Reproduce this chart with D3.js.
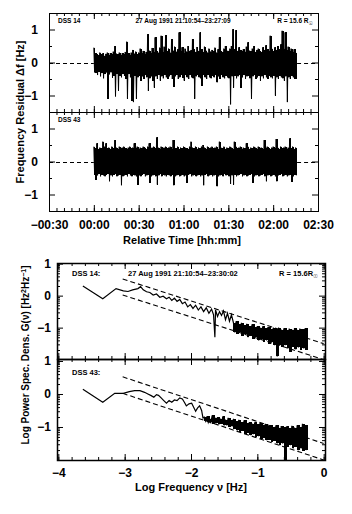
<!DOCTYPE html>
<html>
<head>
<meta charset="utf-8">
<script src="https://cdn.jsdelivr.net/npm/d3@7"></script>
<style>
  body { margin: 0; background: #fff; }
  text { font-family: "Liberation Sans", "DejaVu Sans", sans-serif; font-weight: bold; fill: #000; }
</style>
</head>
<body>
<div id="chart"></div>
<script>
// ---- data: residuals, one hi/lo pair per minute after start (00:00 = 21:10:54)
const minutes = d3.range(0, 136);

const dss14Hi = [
  0.45,0.28,0.25,0.22,0.30,0.25,0.28,0.20,0.26,0.30,
  0.22,0.28,0.25,0.33,0.50,0.27,0.25,0.30,0.22,0.28,
  0.25,0.32,0.63,0.28,0.24,0.30,0.38,0.27,0.33,0.25,
  0.30,0.42,0.28,0.35,0.27,0.32,0.86,0.36,0.30,0.44,
  0.32,0.76,0.35,0.30,0.45,0.81,0.33,0.48,0.83,0.35,
  0.42,0.30,0.71,0.36,0.48,0.33,0.40,0.91,0.35,0.46,
  0.30,0.42,0.33,0.50,0.35,0.38,0.71,0.40,0.32,0.47,
  0.35,0.91,0.40,0.32,0.48,0.36,0.30,0.42,0.33,0.38,
  0.35,0.45,0.30,0.40,0.76,0.35,0.32,0.42,0.50,0.36,
  0.35,0.42,0.50,1.01,0.40,0.98,0.35,0.46,0.38,0.35,
  0.40,0.33,0.48,0.61,0.36,0.35,0.42,0.50,0.32,0.38,
  0.42,0.35,0.32,0.46,0.38,0.52,0.40,0.35,0.81,0.42,
  0.35,0.46,0.38,0.50,0.40,0.55,0.96,0.42,0.91,0.38,
  0.48,0.35,0.42,0.33,0.40,0.30
];
const dss14Lo = [
  -0.30,-0.32,-0.38,-0.28,-0.42,-0.32,-0.48,-0.35,-0.30,-1.10,
  -0.36,-0.30,-0.46,-0.40,-1.03,-0.35,-0.86,-0.40,-0.45,-0.35,
  -0.40,-0.50,-1.10,-0.35,-0.45,-1.16,-1.20,-0.40,-1.10,-0.45,
  -0.40,-0.55,-0.42,-0.50,-0.38,-0.45,-0.86,-0.48,-0.42,-0.55,
  -0.76,-0.42,-0.50,-0.38,-0.55,-0.42,-0.48,-0.38,-0.45,-0.50,
  -0.42,-0.38,-0.50,-0.73,-0.42,-0.38,-0.50,-0.45,-0.38,-0.46,
  -0.55,-0.38,-0.45,-0.50,-0.38,-0.45,-0.48,-1.10,-0.42,-0.38,
  -0.45,-0.48,-0.70,-0.38,-0.45,-0.50,-0.38,-0.45,-0.48,-0.40,
  -0.45,-0.38,-0.60,-0.42,-0.50,-0.38,-0.45,-0.48,-0.40,-0.45,
  -0.48,-1.27,-0.42,-0.76,-0.40,-0.48,-0.42,-0.38,-0.76,-0.45,
  -0.38,-0.50,-0.42,-0.40,-0.48,-1.10,-0.42,-0.38,-0.50,-0.45,
  -0.40,-0.55,-0.42,-0.48,-0.38,-0.45,-0.50,-0.40,-0.45,-0.48,
  -0.40,-1.00,-0.45,-0.50,-0.40,-0.45,-0.48,-0.55,-0.42,-1.20,
  -0.45,-0.50,-0.40,-0.45,-0.50,-0.50
];
const dss43Hi = [
  0.45,0.40,0.55,0.38,0.42,0.40,0.60,0.45,0.55,0.40,
  0.42,0.38,0.45,0.40,0.65,0.42,0.38,0.45,0.40,0.42,
  0.45,0.40,0.38,0.42,0.45,0.40,0.42,0.55,0.40,0.45,
  0.38,0.42,0.40,0.45,0.42,0.38,0.45,0.55,0.40,0.42,
  0.45,0.40,0.73,0.42,0.38,0.45,0.40,0.42,0.45,0.40,
  0.42,0.45,0.38,0.65,0.42,0.40,0.45,0.38,0.42,0.40,
  0.45,0.42,0.40,0.38,0.45,0.60,0.42,0.40,0.45,0.38,
  0.42,0.40,0.45,0.50,0.42,0.38,0.45,0.40,0.42,0.45,
  0.40,0.42,0.45,0.38,0.60,0.42,0.40,0.45,0.38,0.42,
  0.40,0.45,0.42,0.38,0.60,0.45,0.40,0.42,0.45,0.38,
  0.42,0.40,0.55,0.45,0.38,0.42,0.40,0.45,0.42,0.38,
  0.45,0.40,0.42,0.38,0.65,0.42,0.45,0.40,0.38,0.42,
  0.45,0.40,0.68,0.42,0.38,0.45,0.40,0.42,0.45,0.38,
  0.42,0.70,0.40,0.45,0.38,0.42
];
const dss43Lo = [
  -0.40,-0.55,-0.42,-0.38,-0.45,-0.40,-0.42,-0.45,-0.40,-0.38,
  -0.60,-0.42,-0.45,-0.40,-0.38,-0.45,-0.42,-0.40,-0.72,-0.45,
  -0.42,-0.40,-0.45,-0.38,-0.42,-0.45,-0.40,-0.42,-0.45,-0.70,
  -0.42,-0.45,-0.40,-0.38,-0.45,-0.42,-0.40,-0.65,-0.45,-0.42,
  -0.40,-0.45,-0.70,-0.42,-0.38,-0.45,-0.40,-0.42,-0.45,-0.40,
  -0.42,-0.45,-0.40,-0.72,-0.45,-0.42,-0.40,-0.45,-0.42,-0.40,
  -0.45,-0.42,-0.65,-0.40,-0.38,-0.45,-0.42,-0.40,-0.45,-0.42,
  -0.40,-0.45,-0.42,-0.72,-0.40,-0.38,-0.45,-0.42,-0.40,-0.45,
  -0.42,-0.40,-0.75,-0.45,-0.42,-0.40,-0.45,-0.38,-0.42,-0.40,
  -0.45,-0.68,-0.42,-0.70,-0.40,-0.45,-0.42,-0.40,-0.38,-0.45,
  -0.42,-0.40,-0.45,-0.42,-0.40,-0.38,-0.65,-0.45,-0.42,-0.40,
  -0.45,-0.42,-0.40,-0.38,-0.45,-0.60,-0.42,-0.40,-0.45,-0.42,
  -0.40,-0.45,-0.60,-0.42,-0.40,-0.38,-0.45,-0.42,-0.40,-0.45,
  -0.42,-0.40,-0.62,-0.45,-0.40,-0.42
];

const timeTicks = [-30, 0, 30, 60, 90, 120, 150];
const timeTickLabels = ['\u221200:30', '00:00', '00:30', '01:00', '01:30', '02:00', '02:30'];

// ---- data: power spectra (log10 frequency, log10 G)
const spec14F = [-3.63,-3.33,-3.13,-3.02,-2.95,-2.88,-2.80,-2.76,-2.72,-2.67,-2.62,-2.57,-2.52,-2.47,-2.42,-2.37,
  -2.33,-2.29,-2.25,-2.21,-2.17,-2.13,-2.09,-2.05,-2.01,-1.97,-1.93,-1.89,-1.85,-1.81,-1.77,-1.73,-1.69,-1.66,
  -1.64,-1.63,-1.60,-1.57,-1.54,-1.51,-1.48,-1.45,-1.42,-1.39];
const spec14G = [0.30,-0.10,0.22,0.15,0.13,0.18,0.22,0.28,0.18,0.12,0.10,0.02,0.05,-0.05,-0.02,-0.10,
  -0.05,-0.15,-0.08,-0.18,-0.12,-0.25,-0.20,-0.35,-0.28,-0.40,-0.30,-0.45,-0.35,-0.50,-0.38,-0.55,-0.42,-0.60,
  -1.30,-0.45,-0.65,-0.50,-0.62,-0.48,-0.75,-0.55,-0.80,-0.60];
// noisy high-frequency part: hi/lo pairs on a 0.04 dex grid
const spec14NoiseF = d3.range(-1.36, -0.27, 0.04);
const spec14NoiseHi = [-0.85,-0.80,-0.90,-0.85,-0.92,-0.88,-0.95,-0.90,-0.98,-0.95,-1.00,-0.96,-1.02,-0.98,
  -1.05,-1.00,-1.04,-1.00,-1.06,-1.02,-1.08,-1.03,-1.06,-1.02,-1.07,-1.03,-1.05,-1.02];
const spec14NoiseLo = [-1.15,-1.20,-1.15,-1.25,-1.20,-1.30,-1.25,-1.35,-1.30,-1.40,-1.35,-1.45,-1.40,-1.50,
  -1.45,-1.55,-1.90,-1.55,-1.60,-1.55,-1.65,-1.75,-1.60,-1.68,-1.62,-1.70,-1.65,-1.70];

const spec43F = [-3.63,-3.33,-3.15,-3.02,-2.93,-2.85,-2.77,-2.70,-2.65,-2.60,-2.56,-2.52,-2.49,-2.45,-2.41,-2.37,
  -2.33,-2.29,-2.25,-2.21,-2.17,-2.13,-2.10,-2.07,-2.03,-1.99,-1.96,-1.93,-1.90,-1.87,-1.84,-1.82];
const spec43G = [0.14,-0.25,0.02,0.02,0.07,0.10,0.10,0.05,0.00,-0.05,-0.10,-0.02,-0.04,-0.12,-0.20,-0.28,
  -0.20,-0.25,-0.18,-0.20,-0.12,-0.15,-0.25,-0.36,-0.30,-0.28,-0.40,-0.52,-0.42,-0.36,-0.50,-0.72];
const spec43NoiseF = d3.range(-1.80, -0.27, 0.04);
const spec43NoiseHi = [-0.70,-0.68,-0.75,-0.65,-0.72,-0.70,-0.75,-0.68,-0.78,-0.72,-0.80,-0.75,-0.82,-0.78,
  -0.85,-0.80,-0.88,-0.85,-0.90,-0.86,-0.92,-0.88,-0.95,-0.90,-0.98,-0.94,-1.00,-0.95,-1.02,-0.97,
  -1.00,-0.98,-1.03,-0.96,-1.02,-0.95,-1.00,-0.90,-0.95];
const spec43NoiseLo = [-0.82,-0.86,-0.85,-0.90,-0.88,-0.92,-0.90,-0.95,-0.95,-1.00,-0.98,-1.05,-1.10,-1.15,
  -1.12,-1.20,-1.18,-1.25,-1.22,-1.30,-1.28,-1.35,-1.32,-1.40,-1.38,-1.45,-1.42,-1.50,-1.55,-1.50,
  -2.00,-1.60,-1.55,-1.65,-1.60,-1.70,-1.65,-1.72,-1.70];

// power-law envelope lines, slope -2/3
const fitSlope = -2 / 3;
const fitOffsets = [-1.5, -2.0];
const fitFrom = -3.03;

const svg = d3.select('#chart').append('svg')
  .attr('width', 352)
  .attr('height', 514);

// generic boxed frame with inward ticks on all four sides
function frame(x, y, o) {
  const [x0, x1] = x.range();
  const [yb, yt] = y.range();
  const g = svg.append('g');
  const sides = [
    [d3.axisBottom, x, `translate(0,${yb})`, o.xMajor, o.xMinor, o.xFormat],
    [d3.axisTop, x, `translate(0,${yt})`, o.xMajor, o.xMinor, null],
    [d3.axisLeft, y, `translate(${x0},0)`, o.yMajor, o.yMinor, o.yFormat],
    [d3.axisRight, y, `translate(${x1},0)`, o.yMajor, o.yMinor, null]
  ];
  sides.forEach(([ax, sc, tr, major, minor, fmt], i) => {
    const pad = i < 2 ? o.xPad : o.yPad;
    g.append('g').attr('transform', tr)
      .call(ax(sc).tickValues(minor).tickSizeInner(-o.minorLen).tickSizeOuter(0).tickFormat(() => ''));
    const a = g.append('g').attr('transform', tr)
      .call(ax(sc).tickValues(major).tickSizeInner(-o.majorLen).tickSizeOuter(0).tickPadding(pad)
        .tickFormat(fmt || (() => '')));
    a.selectAll('text').attr('font-size', 12).attr('font-family', null);
  });
  g.selectAll('.domain').remove();
  g.selectAll('.tick line').attr('stroke-width', o.tickWidth);
  g.append('rect')
    .attr('x', x0 + 0.5).attr('y', yt + 0.5)
    .attr('width', x1 - x0).attr('height', yb - yt)
    .attr('fill', 'none').attr('stroke', '#000').attr('stroke-width', o.border);
  g.attr('font-family', null);
}

function label(x, y, txt, size, anchor) {
  return svg.append('text')
    .attr('x', x).attr('y', y)
    .attr('font-size', size)
    .attr('text-anchor', anchor || 'start')
    .text(txt);
}

// ================= upper chart: residuals vs time
const tX = d3.scaleLinear().domain([-30, 150]).range([49, 318]);
const tY1 = d3.scaleLinear().domain([-1.5, 1.5]).range([112, 13]);
const tY2 = d3.scaleLinear().domain([-1.5, 1.5]).range([211, 112]);

function drawResidual(y, hi, lo) {
  // min-max column per minute
  svg.append('g').selectAll('rect')
    .data(minutes)
    .join('rect')
    .attr('x', m => tX(m))
    .attr('width', m => tX(m + 1) - tX(m))
    .attr('y', (m, i) => y(hi[i]))
    .attr('height', (m, i) => y(lo[i]) - y(hi[i]))
    .attr('fill', '#000')
    .attr('shape-rendering', 'crispEdges');
  const pts = [];
  minutes.forEach((m, i) => {
    pts.push([m, hi[i]]);
    pts.push([m + 0.5, lo[i]]);
  });
  const line = d3.line().x(d => tX(d[0])).y(d => y(d[1]));
  svg.append('path')
    .attr('d', line(pts))
    .attr('fill', 'none')
    .attr('stroke', '#000')
    .attr('stroke-width', 1);
  const first = minutes[0], last = minutes[minutes.length - 1] + 1;
  [[tX.domain()[0], first], [last, tX.domain()[1]]].forEach(([a, b]) => {
    svg.append('line')
      .attr('x1', tX(a)).attr('x2', tX(b))
      .attr('y1', Math.round(y(0)) + 0.5).attr('y2', Math.round(y(0)) + 0.5)
      .attr('stroke', '#000')
      .attr('stroke-dasharray', '4,3');
  });
}

drawResidual(tY1, dss14Hi, dss14Lo);
drawResidual(tY2, dss43Hi, dss43Lo);

const timeFmt = d => timeTickLabels[timeTicks.indexOf(d)];
const topOpts = {
  xMajor: timeTicks, xMinor: d3.range(-30, 151, 5),
  yMajor: [-1, 0, 1], yMinor: [-0.5, 0.5],
  majorLen: 6, minorLen: 3, tickWidth: 1, border: 1,
  xPad: 9, yPad: 11
};
frame(tX, tY1, Object.assign({}, topOpts, { xFormat: null, yFormat: d3.format('d') }));
frame(tX, tY2, Object.assign({}, topOpts, { xFormat: timeFmt, yFormat: d3.format('d') }));

label(58, 23, 'DSS 14', 6.5);
label(183, 23, '27 Aug 1991 21:10:54\u201323:27:09', 6.5, 'middle');
label(313, 23, 'R = 15.6 R', 6.5, 'end')
  .append('tspan').attr('dy', 2).attr('font-size', 5).text('\u2609');
label(58, 122, 'DSS 43', 6.5);

label(182, 244, 'Relative Time [hh:mm]', 11, 'middle');
svg.append('text')
  .attr('transform', 'translate(20,112) rotate(-90)')
  .attr('text-anchor', 'middle')
  .attr('dy', '0.35em')
  .attr('font-size', 11)
  .text('Frequency Residual \u0394f [Hz]');

// ================= lower chart: power spectra
const sX = d3.scaleLinear().domain([-4.02, 0.02]).range([57, 325]);
const sY3 = d3.scaleLinear().domain([-1.98, 1.02]).range([359, 263]);
const sY4 = d3.scaleLinear().domain([-2.0, 1.06]).range([460, 359]);

function drawSpectrum(y, id, f, g, nf, hi, lo) {
  const [yb, yt] = y.range();
  svg.append('clipPath').attr('id', id)
    .append('rect')
    .attr('x', sX.range()[0]).attr('y', yt)
    .attr('width', sX.range()[1] - sX.range()[0]).attr('height', yb - yt);
  const gg = svg.append('g').attr('clip-path', `url(#${id})`);
  // min-max column per noise bin
  gg.append('g').selectAll('rect')
    .data(nf)
    .join('rect')
    .attr('x', v => sX(v))
    .attr('width', v => sX(v + 0.04) - sX(v))
    .attr('y', (v, i) => y(hi[i]))
    .attr('height', (v, i) => y(lo[i]) - y(hi[i]))
    .attr('fill', '#000')
    .attr('shape-rendering', 'crispEdges');
  const pts = f.map((v, i) => [v, g[i]]);
  nf.forEach((v, i) => {
    pts.push([v, hi[i]]);
    pts.push([v + 0.02, lo[i]]);
  });
  const line = d3.line().x(d => sX(d[0])).y(d => y(d[1]));
  gg.append('path')
    .attr('d', line(pts))
    .attr('fill', 'none')
    .attr('stroke', '#000')
    .attr('stroke-width', 1.2);
  fitOffsets.forEach(off => {
    gg.append('path')
      .attr('d', line([[fitFrom, fitSlope * fitFrom + off], [0, off]]))
      .attr('fill', 'none')
      .attr('stroke', '#000')
      .attr('stroke-width', 1.1)
      .attr('stroke-dasharray', '5,3');
  });
}

drawSpectrum(sY3, 'clip14', spec14F, spec14G, spec14NoiseF, spec14NoiseHi, spec14NoiseLo);
drawSpectrum(sY4, 'clip43', spec43F, spec43G, spec43NoiseF, spec43NoiseHi, spec43NoiseLo);

const logMinor = [];
[-2, -1, 0].forEach(n => d3.range(2, 10).forEach(k => logMinor.push(n + Math.log10(k))));
const lowOpts = {
  xMajor: [-4, -3, -2, -1, 0], xMinor: d3.range(-4, 0.01, 0.2),
  yMajor: [-1, 0, 1],
  majorLen: 6, minorLen: 3, tickWidth: 1, border: 1.5,
  xPad: 8, yPad: 6
};
frame(sX, sY3, Object.assign({}, lowOpts, {
  yMinor: logMinor.filter(v => v > -1.98 && v < 1.02), xFormat: null, yFormat: d3.format('d')
}));
frame(sX, sY4, Object.assign({}, lowOpts, {
  yMinor: logMinor.filter(v => v > -2 && v < 1.06), xFormat: d3.format('d'), yFormat: d3.format('d')
}));

label(72, 276, 'DSS 14:', 7.5);
label(128, 276, '27 Aug 1991 21:10:54\u201323:30:02', 7.5);
label(318, 276, 'R = 15.6R', 7.5, 'end')
  .append('tspan').attr('dy', 2).attr('font-size', 5.5).text('\u2609');
label(72, 375, 'DSS 43:', 7.5);

label(191, 491, 'Log Frequency \u03bd [Hz]', 11, 'middle');
const yt = svg.append('text')
  .attr('transform', 'translate(25,355) rotate(-90)')
  .attr('text-anchor', 'middle')
  .attr('dy', '0.35em')
  .attr('font-size', 10);
yt.append('tspan').text('Log Power Spec. Dens. G(\u03bd) [Hz');
yt.append('tspan').attr('dy', -3).attr('font-size', 7).text('2');
yt.append('tspan').attr('dy', 3).text('Hz');
yt.append('tspan').attr('dy', -3).attr('font-size', 7).text('\u22121');
yt.append('tspan').attr('dy', 3).text(']');
</script>
</body>
</html>
